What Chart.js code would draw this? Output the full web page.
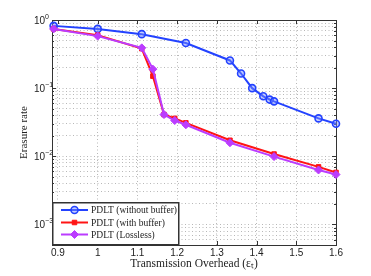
<!DOCTYPE html>
<html>
<head>
<meta charset="utf-8">
<script src="https://cdn.jsdelivr.net/npm/chart.js@4/dist/chart.umd.min.js"></script>
<style>
  html, body { margin: 0; padding: 0; background: #fff; }
  #wrap { width: 371px; height: 276px; }
</style>
</head>
<body>
<div id="wrap"><canvas id="chart" width="371" height="276"></canvas></div>
<script>
// values
const xNoBuf = [0.889, 1.0, 1.111, 1.222, 1.333, 1.361, 1.389, 1.417, 1.433, 1.444, 1.556, 1.6];
const yNoBuf = [0.82, 0.74, 0.62, 0.46, 0.255, 0.164, 0.1, 0.076, 0.068, 0.064, 0.036, 0.030];

const xBuf = [0.889, 1.0, 1.111, 1.139, 1.167, 1.194, 1.222, 1.333, 1.444, 1.556, 1.6];
const yBuf = [0.74, 0.60, 0.38, 0.15, 0.041, 0.036, 0.031, 0.0172, 0.0108, 0.0070, 0.0058];

const xLossless = [0.889, 1.0, 1.111, 1.139, 1.167, 1.194, 1.222, 1.333, 1.444, 1.556, 1.6];
const yLossless = [0.74, 0.58, 0.39, 0.19, 0.041, 0.0335, 0.029, 0.0158, 0.0099, 0.0063, 0.0054];

const xTicks = [0.9, 1.0, 1.1, 1.2, 1.3, 1.4, 1.5, 1.6];
const decades = [-3, -2, -1, 0];
const seriesNames = ['PDLT (without buffer)', 'PDLT (with buffer)', 'PDLT (Lossless)'];

const BLUE = '#2342ff', RED = '#ff1414', VIOLET = '#bb3cff';

function pts(xs, ys) { return xs.map((x, i) => ({x: x, y: ys[i]})); }

// all 1..9 x 10^k gridlines in the range
let yGrid = [];
for (let k = -4; k <= 0; k++) {
  for (let m = 1; m <= 9; m++) {
    const v = m * Math.pow(10, k);
    if (v >= 5e-4 - 1e-12 && v <= 1 + 1e-12) yGrid.push(v);
  }
}

const frame = {
  id: 'frame',
  beforeDatasetsDraw(chart) {
    const {ctx, chartArea: a, scales} = chart;
    ctx.save();
    ctx.strokeStyle = '#333';
    ctx.lineWidth = 1;
    ctx.setLineDash([]);
    ctx.strokeRect(a.left + 0.5, a.top + 0.5, a.right - a.left, a.bottom - a.top);
    // tick marks
    ctx.beginPath();
    xTicks.forEach(v => {
      const px = Math.round(scales.x.getPixelForValue(v)) + 0.5;
      ctx.moveTo(px, a.bottom); ctx.lineTo(px, a.bottom - 4);
      ctx.moveTo(px, a.top); ctx.lineTo(px, a.top + 4);
    });
    yGrid.forEach(v => {
      const py = Math.round(scales.y.getPixelForValue(v)) + 0.5;
      const major = Math.abs(Math.log10(v) - Math.round(Math.log10(v))) < 1e-6;
      const len = major ? 4 : 2;
      ctx.moveTo(a.left, py); ctx.lineTo(a.left + len, py);
      ctx.moveTo(a.right, py); ctx.lineTo(a.right - len, py);
    });
    ctx.stroke();
    // y tick labels 10^k
    ctx.fillStyle = '#222';
    ctx.textBaseline = 'alphabetic';
    ctx.textAlign = 'left';
    decades.forEach(k => {
      const py = scales.y.getPixelForValue(Math.pow(10, k));
      ctx.font = '10px "Liberation Sans", Arial, sans-serif';
      ctx.fillText('10', 34, py + 4);
      const w = ctx.measureText('10').width;
      ctx.font = '7px "Liberation Sans", Arial, sans-serif';
      ctx.fillText(k === 0 ? '0' : '\u2212' + (-k), 34 + w, py - 1);
    });
    ctx.restore();
  },
  afterDraw(chart) {
    const {ctx, chartArea: a} = chart;
    const ds = chart.data.datasets;
    const bx = a.left, by = 202, bw = 127, bh = a.bottom - 202;
    ctx.save();
    ctx.fillStyle = '#fff';
    ctx.fillRect(bx, by, bw, bh);
    ctx.strokeStyle = '#333';
    ctx.lineWidth = 1.5;
    ctx.strokeRect(bx + 0.75, by + 0.75, bw - 1, bh - 1);
    const rows = [210, 222.5, 234.5];
    rows.forEach((ry, i) => {
      const d = ds[i];
      ctx.setLineDash([]);
      ctx.strokeStyle = d.borderColor;
      ctx.lineWidth = 2;
      ctx.beginPath(); ctx.moveTo(61, ry); ctx.lineTo(88, ry); ctx.stroke();
      ctx.fillStyle = d.pointBackgroundColor;
      ctx.strokeStyle = d.pointBorderColor;
      ctx.lineWidth = d.pointBorderWidth;
      Chart.helpers.drawPoint(ctx, {
        pointStyle: d.pointStyle, radius: d.pointRadius, borderWidth: d.pointBorderWidth, rotation: 0
      }, 74.5, ry);
      ctx.fillStyle = '#222';
      ctx.font = '9.5px "Liberation Serif", "Times New Roman", serif';
      ctx.textBaseline = 'middle';
      ctx.textAlign = 'left';
      ctx.fillText(seriesNames[i], 91, ry + 0.5);
    });
    ctx.restore();
  }
};

new Chart(document.getElementById('chart'), {
  type: 'line',
  data: {
    datasets: [
      {
        label: seriesNames[0], data: pts(xNoBuf, yNoBuf),
        borderColor: BLUE, backgroundColor: BLUE, borderWidth: 2,
        pointStyle: 'circle', pointRadius: 3.5, pointBorderWidth: 1.6,
        pointBackgroundColor: 'rgba(120,140,255,0.45)', pointBorderColor: BLUE,
        tension: 0, order: 2, clip: false
      },
      {
        label: seriesNames[1], data: pts(xBuf, yBuf),
        borderColor: RED, backgroundColor: RED, borderWidth: 2,
        pointStyle: 'rect', pointRadius: 3.2, pointBorderWidth: 1,
        pointBackgroundColor: RED, pointBorderColor: RED,
        tension: 0, order: 1, clip: false
      },
      {
        label: seriesNames[2], data: pts(xLossless, yLossless),
        borderColor: VIOLET, backgroundColor: VIOLET, borderWidth: 2,
        pointStyle: 'rectRot', pointRadius: 4, pointBorderWidth: 1,
        pointBackgroundColor: VIOLET, pointBorderColor: VIOLET,
        tension: 0, order: 0, clip: false
      }
    ]
  },
  options: {
    responsive: false,
    animation: false,
    devicePixelRatio: 1,
    layout: { padding: { top: 20, right: 35, left: 0, bottom: 0 } },
    plugins: { legend: { display: false }, tooltip: { enabled: false } },
    scales: {
      x: {
        type: 'linear', min: 0.885, max: 1.6,
        border: { display: false, dash: [1, 2.5] },
        grid: { color: '#a6a6a6', lineWidth: 0.8, drawTicks: false },
        afterBuildTicks: s => { s.ticks = xTicks.map(v => ({value: v})); },
        afterFit: s => { s.height = 31; },
        ticks: {
          padding: 2, color: '#222',
          font: { family: '"Liberation Sans", Arial, sans-serif', size: 10 },
          callback: v => String(Math.round(v * 10) / 10),
          maxRotation: 0, autoSkip: false
        },
        title: {
          display: true, text: 'Transmission Overhead (\u03b5\u209c)', color: '#222',
          font: { family: '"Liberation Serif", "Times New Roman", serif', size: 11.5 },
          padding: { top: 0, bottom: 5 }
        }
      },
      y: {
        type: 'logarithmic', min: 5e-4, max: 1,
        border: { display: false, dash: [1, 2.5] },
        grid: { color: '#a6a6a6', lineWidth: 0.8, drawTicks: false },
        afterBuildTicks: s => { s.ticks = yGrid.map(v => ({value: v})); },
        afterFit: s => { s.width = 52; },
        ticks: { display: false, autoSkip: false },
        title: {
          display: true, text: 'Erasure rate', color: '#222',
          font: { family: '"Liberation Serif", "Times New Roman", serif', size: 11 },
          padding: { top: 18, bottom: 0 }
        }
      }
    }
  },
  plugins: [frame]
});
</script>
</body>
</html>
